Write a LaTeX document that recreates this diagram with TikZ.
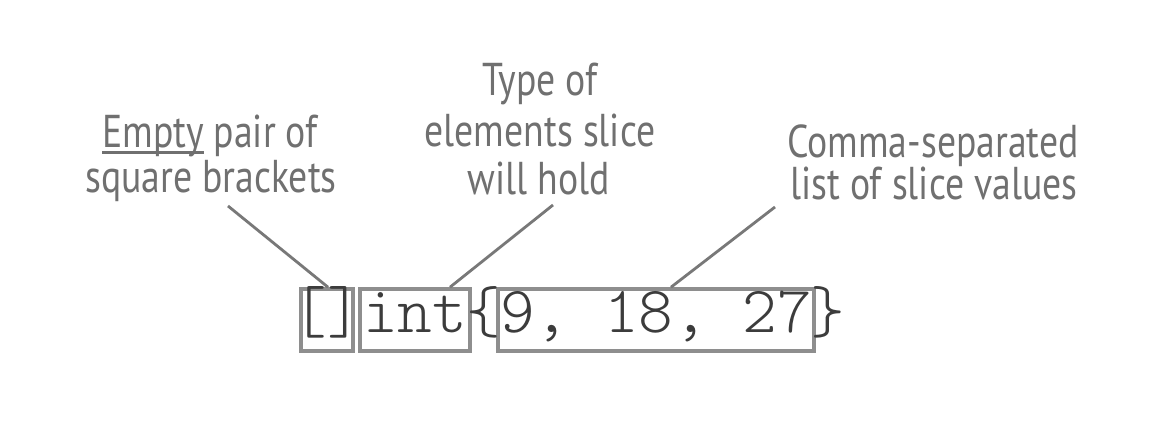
\documentclass[tikz,border=0pt]{standalone}
\usepackage{fontspec}
\newfontfamily\codefont{Latin Modern Mono Light}
\newfontfamily\handfont[FakeStretch=0.82]{PT Sans}
\usetikzlibrary{calc}
\definecolor{codegray}{HTML}{3C3C3C}
\definecolor{boxgray}{HTML}{8E8E8E}
\definecolor{labgray}{HTML}{707070}
\definecolor{linegray}{HTML}{787878}
\newcommand\myul[1]{\setbox0\hbox{#1}\rlap{\rule[-6pt]{\wd0}{2.6pt}}\box0\relax}
\tikzset{
  codebox/.style={draw=boxgray, line width=3.6pt, inner sep=0pt, minimum height=62pt},
  codetext/.style={inner sep=0pt, anchor=base, font=\codefont\fontsize{66}{66}\selectfont, text=codegray},
  lab/.style={inner sep=0pt, anchor=base, text=labgray,
    font=\handfont\fontsize{46}{46}\selectfont},
  conn/.style={draw=linegray, line width=2.8pt}
}
\begin{document}
\begin{tikzpicture}[x=1pt,y=1pt]
\useasboundingbox (0,0) rectangle (1176,438);
\fill[white] (0,0) rectangle (1176,438);
% code boxes
\node[codebox, minimum width=52pt] (b1) at (327,118) {};
\node[codebox, minimum width=110pt] (b2) at (415,118) {};
\node[codebox, minimum width=316pt] (b3) at (656,118) {};
\node[codetext] (t1) at (327,105) {[]};
\node[codetext] (t2) at (415,105) {int};
\node[codetext] (lb) at (484,105) {\{};
\node[codetext] (t3) at (656,105) {9, 18, 27};
\node[codetext] (rb) at (828,105) {\}};
% labels
\node[lab] (l1a) at (210,290) {\myul{Empty} pair of};
\node[lab] (l1b) at (211,245) {square brackets};
\node[lab] (l2a) at (540,342) {Type of};
\node[lab] (l2b) at (540,291) {elements slice};
\node[lab] (l2c) at (539,243) {will hold};
\node[lab] (l3a) at (933,280) {Comma-separated};
\node[lab] (l3b) at (934,238) {list of slice values};
% connector start points
\coordinate (c1) at (228,232);
\coordinate (c2) at (553,233);
\coordinate (c3) at (775,231);
\draw[conn] (c1) -- ($(b1.north)+(1,0)$);
\draw[conn] (c2) -- ($(b2.north)+(35,0)$);
\draw[conn] (c3) -- ($(b3.north)+(15,0)$);
\end{tikzpicture}
\end{document}
